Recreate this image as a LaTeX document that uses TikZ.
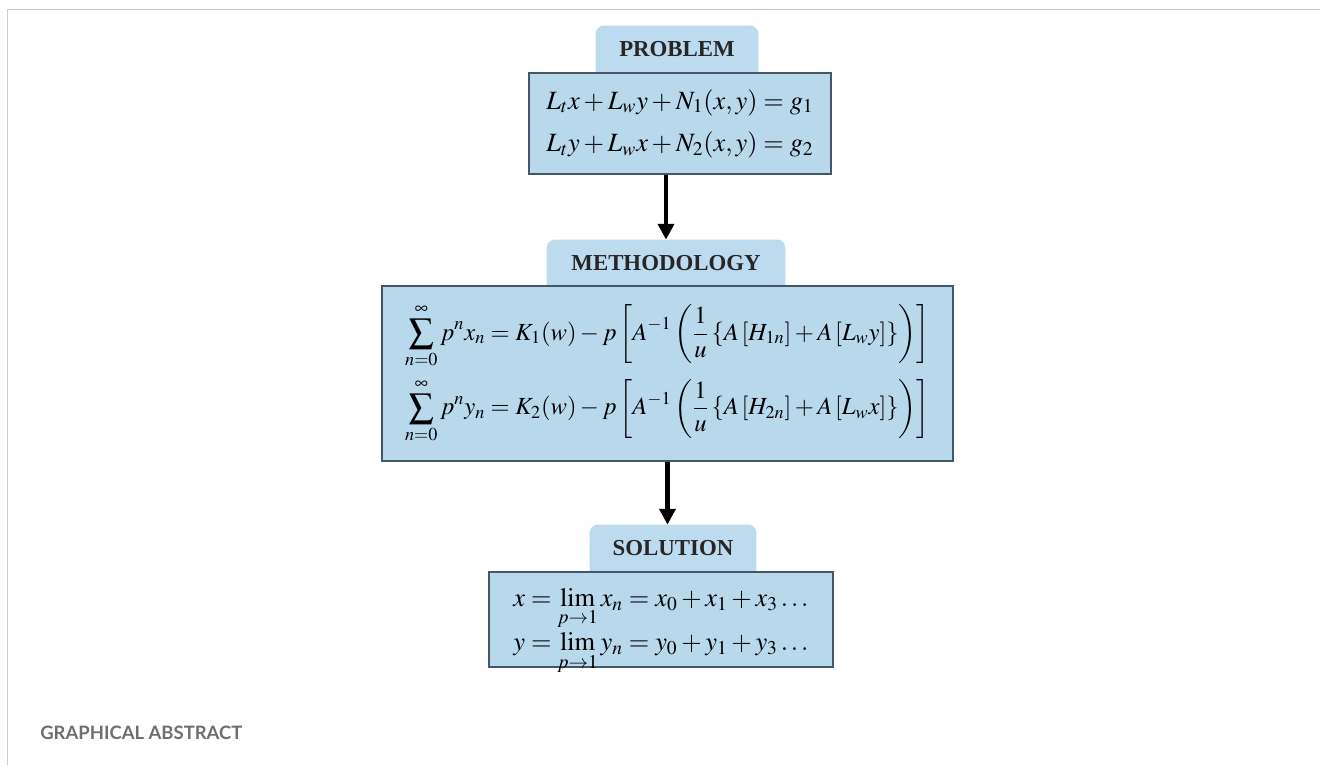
\documentclass[tikz,border=0pt]{standalone}
\usepackage{amsmath}
\usepackage{mathptmx}
\usepackage{fontspec}
\setmainfont{Liberation Serif}
\newfontfamily\capfont{Lato}
\usepackage{tikz}
\usetikzlibrary{arrows.meta, backgrounds}

\definecolor{boxblue}{HTML}{B8D8EC}
\definecolor{tabblue}{HTML}{BDDBEE}
\definecolor{boxline}{HTML}{46566A}
\definecolor{framegray}{HTML}{CCCCCC}
\definecolor{capgray}{HTML}{6E6E6E}

\tikzset{
    stagebox/.style={draw=boxline, line width=1.1pt, fill=boxblue, align=center,
        inner sep=0pt, font=\fontsize{14}{16}\selectfont},
    stagetab/.style={inner sep=0pt, font=\fontsize{13}{15}\selectfont\bfseries,
        text=black!85},
    flow/.style={line width=2.6pt, -{Triangle[length=9pt, width=9pt]}}
}

\begin{document}
\begin{tikzpicture}[x=0.02cm, y=-0.02cm]
    \useasboundingbox (0,0) rectangle (1320,765);

    % 1. Khung trang
    \draw[framegray, line width=0.85pt] (1320,9.5) -- (7.5,9.5) -- (7.5,765);

    % 2. Các tiêu đề
    \node[stagetab, minimum width=3.24cm, minimum height=0.94cm] (probtab) at (677,49.5) {PROBLEM};
    \node[stagetab, minimum width=4.76cm, minimum height=0.92cm] (methtab) at (666,263) {METHODOLOGY};
    \node[stagetab, minimum width=3.32cm, minimum height=0.94cm] (soltab) at (673,548.5) {SOLUTION};
    \begin{scope}[on background layer]
        \foreach \t in {probtab, methtab, soltab} {
            \fill[tabblue, rounded corners=0.16cm] ([yshift=-0.2cm]\t.south west) rectangle (\t.north east);
        }
    \end{scope}

    % 3. Các khung công thức
    \node[stagebox, minimum width=6.04cm, minimum height=2.02cm, font=\fontsize{15}{17}\selectfont] (prob) at (680,123.5)
        {$L_t x+L_w y+N_1(x,y)=g_1$\\[7pt]
         $L_t y+L_w x+N_2(x,y)=g_2$};
    \node[stagebox, minimum width=11.42cm, minimum height=3.5cm] (meth) at (667.5,373.5)
        {$\displaystyle\sum_{n=0}^{\infty}p^n x_n=K_1(w)-p\left[A^{-1}\left(\frac{1}{u}\left\{A\left[H_{1n}\right]+A\left[L_w y\right]\right\}\right)\right]$\\[5pt]
         $\displaystyle\sum_{n=0}^{\infty}p^n y_n=K_2(w)-p\left[A^{-1}\left(\frac{1}{u}\left\{A\left[H_{2n}\right]+A\left[L_w x\right]\right\}\right)\right]$};
    \node[stagebox, minimum width=6.88cm, minimum height=1.9cm, font=\fontsize{15}{17}\selectfont] (sol) at (661,619.5)
        {$\displaystyle\smash[b]{x=\lim_{p\to 1}x_n=x_0+x_1+x_3\ldots}$\\[8.5pt]
         $\displaystyle\smash[b]{y=\lim_{p\to 1}y_n=y_0+y_1+y_3\ldots}$};

    % 4. Mũi tên
    \draw[flow] (prob.south -| methtab.north) -- (methtab.north);
    \draw[flow] (meth.south) -- (meth.south |- soltab.north);

    % 5. Chú thích
    \node[anchor=west, inner sep=0pt, text=capgray, font=\capfont\bfseries\fontsize{10.5}{12}\selectfont] (caption) at (40,733) {GRAPHICAL ABSTRACT};
\end{tikzpicture}
\end{document}
